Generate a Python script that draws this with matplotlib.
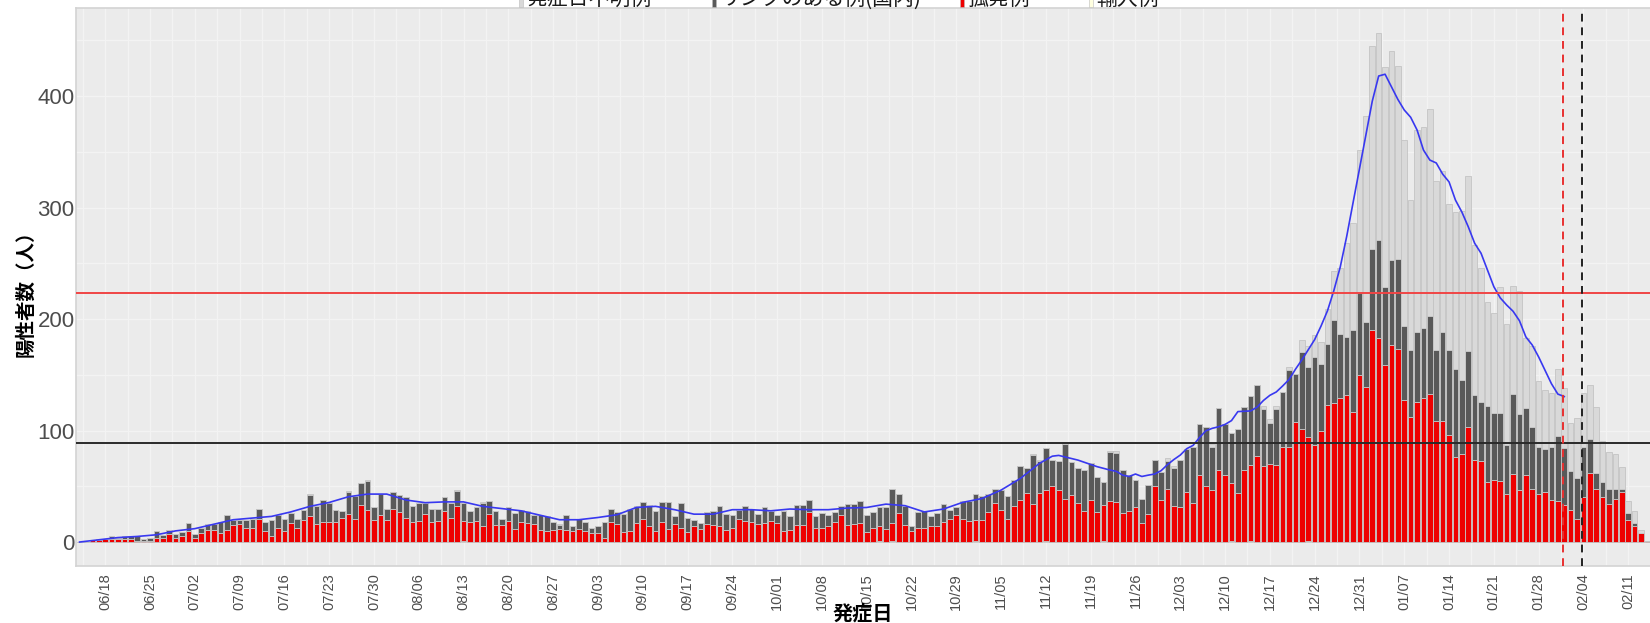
"""Daily positive cases by onset date, stacked by infection route."""

import matplotlib

matplotlib.use("Agg")
import matplotlib.pyplot as plt
import numpy as np
import pandas as pd
from matplotlib.patches import Rectangle

plt.rcParams["font.family"] = ["Liberation Sans", "Noto Sans CJK JP"]

START_DATE = "2020-06-14"

# 孤発例 (red), one value per onset day starting 06/14
isolated = [
    0, 0, 2, 2, 3, 3, 3, 3, 3, 1, 1, 1, 4, 4, 7, 4, 5, 10, 4, 8,
    11, 11, 8, 11, 15, 16, 13, 13, 21, 10, 5, 13, 10, 17, 13, 20, 23, 16, 18, 18,
    18, 22, 25, 21, 33, 29, 20, 24, 20, 30, 27, 22, 18, 19, 25, 18, 19, 28, 22, 32,
    18, 18, 19, 14, 25, 15, 15, 19, 12, 18, 17, 16, 11, 10, 11, 12, 11, 10, 12, 10,
    8, 8, 4, 18, 16, 9, 10, 17, 21, 14, 10, 18, 12, 16, 13, 9, 14, 12, 16, 15,
    14, 11, 13, 21, 19, 18, 16, 17, 19, 17, 10, 11, 15, 15, 27, 13, 13, 14, 18, 24,
    15, 16, 17, 9, 13, 13, 12, 16, 26, 15, 10, 13, 13, 14, 14, 18, 21, 24, 21, 19,
    19, 20, 27, 35, 29, 21, 32, 38, 44, 34, 44, 46, 50, 47, 39, 42, 35, 28, 38, 27,
    32, 37, 36, 26, 28, 31, 17, 25, 50, 38, 48, 32, 31, 45, 35, 60, 50, 47, 65, 60,
    52, 44, 65, 68, 77, 68, 70, 69, 85, 85, 108, 101, 93, 87, 100, 123, 125, 129, 132, 117,
    150, 139, 190, 183, 159, 177, 173, 127, 112, 126, 129, 133, 109, 109, 96, 76, 79, 103, 74, 73,
    54, 56, 55, 43, 61, 47, 60, 48, 43, 45, 38, 37, 33, 29, 21, 40, 62, 48, 40, 34,
    39, 45, 20, 14, 8, 1,
]

# リンクのある例(国内) (dark grey)
linked = [
    0, 0, 0, 1, 0, 2, 1, 2, 2, 4, 2, 3, 6, 2, 4, 3, 4, 7, 3, 5,
    5, 5, 10, 13, 5, 4, 7, 8, 9, 8, 15, 11, 11, 9, 8, 9, 19, 16, 20, 17,
    11, 6, 20, 20, 20, 26, 11, 19, 10, 15, 15, 18, 14, 16, 10, 12, 11, 12, 13, 14,
    16, 10, 12, 21, 12, 13, 6, 12, 14, 11, 11, 8, 13, 13, 7, 3, 13, 4, 9, 8,
    5, 6, 14, 12, 11, 16, 20, 15, 15, 19, 18, 18, 24, 7, 22, 13, 6, 5, 11, 13,
    18, 14, 11, 8, 13, 12, 9, 14, 9, 7, 18, 12, 18, 18, 11, 10, 13, 10, 9, 8,
    19, 18, 20, 15, 14, 17, 19, 31, 17, 17, 4, 14, 15, 9, 12, 16, 8, 7, 16, 18,
    23, 21, 16, 13, 18, 20, 24, 30, 22, 44, 29, 37, 24, 26, 49, 30, 31, 37, 33, 31,
    21, 44, 44, 39, 32, 25, 22, 26, 24, 25, 25, 34, 43, 38, 50, 46, 53, 38, 55, 46,
    45, 57, 56, 62, 64, 51, 37, 50, 50, 69, 43, 69, 63, 79, 60, 55, 74, 58, 52, 73,
    73, 58, 73, 88, 70, 76, 81, 67, 60, 62, 63, 70, 63, 79, 76, 79, 66, 68, 58, 53,
    68, 60, 61, 44, 72, 68, 60, 55, 42, 38, 47, 58, 51, 35, 36, 45, 30, 14, 14, 14,
    9, 3, 6, 3, 0, 0,
]

# 発症日不明例 (light grey)
unknown = [
    0, 0, 0, 0, 0, 0, 0, 0, 0, 0, 0, 0, 0, 0, 0, 0, 0, 0, 0, 0,
    0, 0, 0, 0, 0, 0, 0, 0, 0, 0, 0, 0, 0, 0, 0, 0, 1, 0, 0, 0,
    0, 0, 1, 0, 0, 1, 0, 0, 0, 0, 0, 0, 0, 0, 0, 0, 0, 0, 0, 1,
    0, 0, 0, 1, 0, 0, 0, 0, 0, 0, 0, 0, 0, 0, 0, 1, 0, 0, 0, 0,
    0, 0, 0, 0, 0, 0, 0, 0, 0, 0, 0, 0, 0, 0, 0, 0, 0, 0, 0, 0,
    0, 0, 0, 0, 0, 0, 0, 0, 0, 0, 0, 0, 0, 0, 0, 0, 0, 0, 0, 0,
    0, 0, 0, 0, 0, 0, 0, 0, 0, 0, 0, 0, 0, 0, 0, 0, 0, 0, 0, 0,
    0, 0, 0, 0, 0, 0, 0, 0, 0, 1, 1, 0, 0, 0, 0, 0, 0, 0, 0, 0,
    0, 1, 2, 0, 0, 0, 0, 0, 0, 0, 2, 2, 0, 0, 0, 0, 0, 3, 0, 0,
    0, 0, 0, 0, 0, 3, 3, 3, 0, 3, 0, 11, 19, 20, 19, 31, 44, 59, 84, 96,
    129, 185, 182, 186, 197, 187, 173, 167, 135, 182, 180, 185, 152, 145, 131, 141, 152, 157, 134, 120,
    93, 89, 113, 109, 97, 110, 63, 73, 59, 53, 49, 60, 54, 43, 54, 49, 49, 59, 37, 33,
    31, 19, 11, 11, 3, 0,
]

# 輸入例 (pale yellow), bottom of the stack
imported = [0] * 246
for day in (60, 125, 127, 140, 151, 160, 180, 183, 192):
    imported[day] = 1

# blue trend line (day offset from START_DATE, value)
trend_days = [
    0, 3, 6, 9, 12, 15, 18, 21, 24, 27, 30, 33, 36, 39, 42, 45, 48, 51, 54, 57,
    60, 63, 66, 69, 72, 75, 78, 81, 84, 87, 90, 93, 96, 99, 102, 105, 108, 111, 114, 117,
    120, 123, 126, 129, 132, 135, 138, 141, 144, 147, 150, 152, 153, 156, 159, 161,
    162, 163, 164, 165, 166, 167, 168, 169, 170, 171, 172, 173, 174, 175, 176, 177, 178, 179,
    180, 181, 182, 183, 184, 185, 186, 187, 188, 189, 190, 191, 192, 193, 194, 195, 196, 197,
    198, 199, 200, 201, 202, 203, 204, 205, 206, 207, 208, 209, 210, 211, 212, 213, 214, 215,
    216, 217, 218, 219, 220, 221, 222, 223, 224, 225, 226, 227, 228, 229, 230, 231, 232,
]
trend_values = [
    0, 2, 4, 5, 6.5, 10, 12, 16, 20, 21.5, 23, 27, 32, 35.5, 40.6, 43, 43, 37.7, 35.3, 36,
    36, 32, 30, 28, 24, 20, 20, 22, 24.5, 31, 32, 29, 25, 25, 29, 29, 28, 29.6, 29, 29,
    30.5, 31, 34, 32.6, 27, 29.6, 35.6, 39, 46.6, 57, 70.6, 77, 77.7, 73.5, 67.6, 64.6,
    63.4, 60, 58.8, 61, 58.8, 60, 61, 64, 69.4, 74, 78, 83.7, 86.7, 93.7, 99.8, 102, 103.4, 105.5,
    108.9, 117, 117.3, 117.6, 121, 127, 131.6, 134.6, 140, 145.8, 155, 163.4, 172.5, 181.6, 193.8, 207.4, 225.6, 246.8,
    274, 304.4, 334.7, 365, 395.4, 418, 419.6, 408.3, 397, 387.5, 381, 369.6, 351.6, 342.6, 340, 330, 323, 306.7,
    296, 282.8, 268, 259, 244, 229, 219, 212.6, 207, 198.5, 184, 176.7, 166, 154, 142, 132.7, 130.5,
]

upper_threshold = 223.6
lower_threshold = 89.1
red_cutoff = "2021-01-31 19:12"
black_cutoff = "2021-02-03 19:12"

legend_labels = ["発症日不明例", "リンクのある例(国内)", "孤発例", "輸入例"]
legend_colors = ["#D9D9D9", "#595959", "#EE0000", "#FFFFE0"]

FIG_W, FIG_H = 1650, 623


def px_x(x):
    return x / FIG_W


def px_y(y):
    return 1 - y / FIG_H


dates = pd.date_range(START_DATE, periods=len(isolated), freq="D")
start = dates[0]
x = np.arange(len(dates))

imported_arr = np.array(imported, dtype=float)
isolated_arr = np.array(isolated, dtype=float)
linked_arr = np.array(linked, dtype=float)
unknown_arr = np.array(unknown, dtype=float)

fig = plt.figure(figsize=(FIG_W / 100, FIG_H / 100), dpi=100)
ax = fig.add_axes([px_x(76), px_y(566), 1 - px_x(76), (566 - 8) / FIG_H])
ax.set_facecolor("#EBEBEB")

bar_kw = dict(width=0.88, edgecolor="#C4C4C4", linewidth=0.6, zorder=3)
bottom = np.zeros(len(x))
for values, color in [
    (imported_arr, legend_colors[3]),
    (isolated_arr, legend_colors[2]),
    (linked_arr, legend_colors[1]),
    (unknown_arr, legend_colors[0]),
]:
    ax.bar(x, values, bottom=bottom, color=color, **bar_kw)
    bottom = bottom + values

ax.plot(trend_days, trend_values, color="#3838F0", linewidth=1.2, zorder=4)

ax.axhline(upper_threshold, color="#F04545", linewidth=1.4, zorder=5)
ax.axhline(lower_threshold, color="#2A2A2A", linewidth=1.4, zorder=5)
for when, color in [(red_cutoff, "#E83030"), (black_cutoff, "#222222")]:
    pos = (pd.Timestamp(when) - start) / pd.Timedelta(days=1)
    ax.axvline(pos, color=color, linestyle=(0, (4, 3)), linewidth=1.4, zorder=5)

tick_dates = pd.date_range("2020-06-18", dates[-1], freq="7D")
tick_pos = [(d - start).days for d in tick_dates]
ax.set_xticks(tick_pos)
ax.set_xticklabels([d.strftime("%m/%d") for d in tick_dates], rotation=90)
ax.set_xticks([p + 3.5 for p in tick_pos[:-1]] + [tick_pos[0] - 3.5], minor=True)
ax.set_yticks([0, 100, 200, 300, 400])
ax.set_yticks([50, 150, 250, 350, 450], minor=True)
ax.set_xlim(-0.56, 245.4)
ax.set_ylim(-21.5, 479)

ax.grid(True, which="both", color="#F3F3F3", linewidth=0.9, zorder=0)
ax.set_axisbelow(True)
ax.tick_params(axis="y", which="both", length=0, pad=1, labelsize=16, labelcolor="#4D4D4D")
ax.tick_params(axis="x", which="both", length=0, pad=5, labelsize=10.5, labelcolor="#4D4D4D")
for side, spine in ax.spines.items():
    spine.set_color("#D3D3D3")
    spine.set_linewidth(1.2)
ax.spines["right"].set_visible(False)

fig.text(px_x(26), px_y(289), "陽性者数（人）", rotation=90, ha="center", va="center",
         fontsize=14, fontweight="bold", family=["Noto Sans CJK JP"])
fig.text(px_x(863), px_y(613), "発症日", ha="center", va="center",
         fontsize=14.5, fontweight="bold", family=["Noto Sans CJK JP"])

# legend sits above the image edge, only its lower part is visible
key_x = [519, 712, 960, 1089]
for kx, label, color in zip(key_x, legend_labels, legend_colors):
    fig.patches.append(Rectangle((px_x(kx), px_y(7)), 4 / FIG_W, 8 / FIG_H,
                                 transform=fig.transFigure, facecolor=color,
                                 edgecolor="#BBBBBB", linewidth=0.4))
    fig.text(px_x(kx + 7), px_y(5), label, ha="left", va="baseline", fontsize=15,
             family=["Noto Sans CJK JP"], color="#1A1A1A")

fig.savefig("out.png", dpi=100)
